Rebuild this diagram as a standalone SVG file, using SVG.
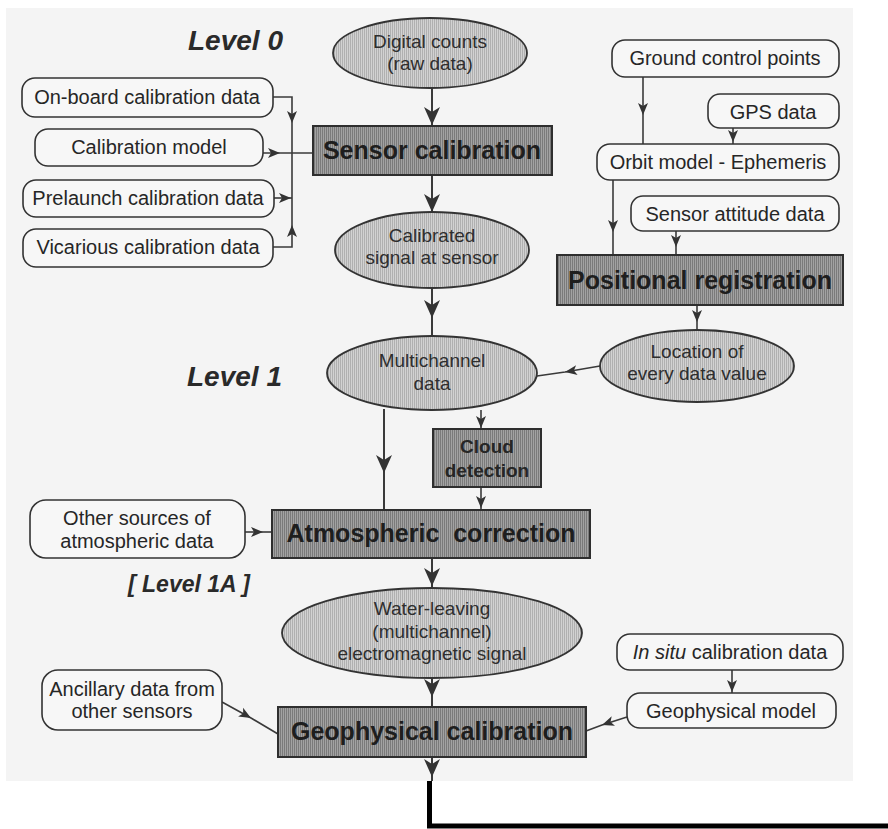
<svg xmlns="http://www.w3.org/2000/svg" width="888" height="829" viewBox="0 0 888 829">
  <style>
    .page { fill: #f4f4f4; }
    .lbl { font-family: "Liberation Sans", Arial, sans-serif; fill: #262626; text-anchor: middle; }
    .in { font-size: 20px; }
    .ell { font-size: 19px; fill: #2e2e2e; }
    .proc { font-size: 25px; font-weight: bold; fill: #1e1e1e; }
    .lvl { font-family: "Liberation Sans", Arial, sans-serif; font-weight: bold; font-style: italic; fill: #2a2a2a; }
    .src rect { fill: #f7f7f7; stroke: #333; stroke-width: 1.6; }
    .box rect { fill: url(#hatchDark); stroke: #2e2e2e; stroke-width: 2; }
    .oval ellipse { fill: url(#hatchLight); stroke: #333; stroke-width: 1.8; }
    .conn path { fill: none; stroke: #3a3a3a; stroke-width: 1.6; }
    .conn .big { stroke-width: 2; marker-mid: url(#bigHead); }
    .conn .small { marker-mid: url(#smallHead); }
    .conn .out { stroke: #000; stroke-width: 5; }
  </style>
  <defs>
    <pattern id="hatchDark" width="2" height="2" patternUnits="userSpaceOnUse">
      <rect width="2" height="2" fill="#a2a2a2"/>
      <rect width="1" height="2" fill="#7a7a7a"/>
    </pattern>
    <pattern id="hatchLight" width="2" height="2" patternUnits="userSpaceOnUse">
      <rect width="2" height="2" fill="#d2d2d2"/>
      <rect width="1" height="2" fill="#b0b0b0"/>
    </pattern>
    <marker id="bigHead" markerUnits="userSpaceOnUse" viewBox="0 -9 19 18" markerWidth="19" markerHeight="18" refX="18" refY="0" orient="auto" overflow="visible">
      <path d="M0,-8 L18,0 L0,8 L5,0 z" fill="#333"/>
    </marker>
    <marker id="smallHead" markerUnits="userSpaceOnUse" viewBox="0 -6 13 12" markerWidth="13" markerHeight="12" refX="12" refY="0" orient="auto" overflow="visible">
      <path d="M0,-5 L12,0 L0,5 L3,0 z" fill="#333"/>
    </marker>
  </defs>

  <!-- printed page area -->
  <rect class="page" x="6" y="8" width="847" height="773"/>

  <!-- level headings -->
  <text class="lvl" x="188" y="50" font-size="28">Level 0</text>
  <text class="lvl" x="187" y="386" font-size="28">Level 1</text>
  <text class="lvl" x="128" y="592" font-size="23">[ Level 1A ]</text>

  <!-- connectors -->
  <g id="connectors" class="conn">
    <!-- main processing column -->
    <path class="big" d="M432,88 L432,125 L432,126"/>
    <path class="big" d="M432,175 L432,212 L432,213"/>
    <path class="big" d="M432,288 L432,318 L432,337"/>
    <path class="big" d="M384,409 L384,473 L384,510"/>
    <path class="small" d="M481,410 L481,428 L481,429"/>
    <path class="small" d="M481,487 L481,508 L481,510"/>
    <path class="big" d="M432,558 L432,586 L432,588"/>
    <path class="big" d="M432,678 L432,697 L432,707"/>
    <path class="big" d="M432,757 L432,777 L432,781"/>

    <!-- calibration inputs: bus on the right of the source boxes -->
    <path d="M273,97 L292,97 L292,105"/>
    <path class="small" d="M292,105 L292,123 L292,153"/>
    <path d="M273,247 L292,247 L292,240"/>
    <path class="small" d="M292,240 L292,225 L292,153"/>
    <path class="small" d="M263,153 L280,153 L313,153"/>
    <path class="small" d="M274,198 L291,198 L292,198"/>

    <!-- positional inputs -->
    <path class="small" d="M643,77 L643,115 L643,144"/>
    <path class="small" d="M733,128 L733,142 L733,144"/>
    <path class="small" d="M613,180 L613,232 L613,255"/>
    <path class="small" d="M676,231 L676,247 L676,255"/>
    <path class="small" d="M697,305 L697,322 L697,330"/>
    <path class="small" d="M600,366 L565,372 L537,376"/>

    <!-- atmospheric and geophysical inputs -->
    <path class="small" d="M245,532 L263,532 L272,532"/>
    <path class="small" d="M222,702 L251,718 L278,734"/>
    <path class="small" d="M732,670 L732,692 L732,693"/>
    <path class="small" d="M627,717 L602,725 L586,731"/>

    <!-- output line -->
    <path class="out" d="M429.5,781 L429.5,826 L888,826"/>
  </g>

  <!-- data products -->
  <g id="digital-counts" class="oval">
    <ellipse cx="430" cy="53" rx="97" ry="35"/>
    <text class="lbl ell" x="430" y="48">Digital counts</text>
    <text class="lbl ell" x="430" y="70">(raw data)</text>
  </g>
  <g id="calibrated-signal" class="oval">
    <ellipse cx="432" cy="250" rx="97" ry="38"/>
    <text class="lbl ell" x="432" y="242">Calibrated</text>
    <text class="lbl ell" x="432" y="264">signal at sensor</text>
  </g>
  <g id="multichannel-data" class="oval">
    <ellipse cx="432" cy="373" rx="105" ry="37"/>
    <text class="lbl ell" x="432" y="367">Multichannel</text>
    <text class="lbl ell" x="432" y="390">data</text>
  </g>
  <g id="location" class="oval">
    <ellipse cx="697" cy="366" rx="97" ry="36"/>
    <text class="lbl ell" x="697" y="358">Location of</text>
    <text class="lbl ell" x="697" y="380">every data value</text>
  </g>
  <g id="water-leaving" class="oval">
    <ellipse cx="432" cy="633" rx="150" ry="45"/>
    <text class="lbl ell" x="432" y="615">Water-leaving</text>
    <text class="lbl ell" x="432" y="638">(multichannel)</text>
    <text class="lbl ell" x="432" y="660">electromagnetic signal</text>
  </g>

  <!-- processing steps -->
  <g id="sensor-calibration" class="box">
    <rect x="313" y="126" width="239" height="49"/>
    <text class="lbl proc" x="432" y="159">Sensor calibration</text>
  </g>
  <g id="positional-registration" class="box">
    <rect x="557" y="255" width="286" height="50"/>
    <text class="lbl proc" x="700" y="289">Positional registration</text>
  </g>
  <g id="cloud-detection" class="box">
    <rect x="433" y="429" width="108" height="58"/>
    <text class="lbl" x="487" y="453" font-size="19" font-weight="bold">Cloud</text>
    <text class="lbl" x="487" y="477" font-size="19" font-weight="bold">detection</text>
  </g>
  <g id="atmospheric-correction" class="box">
    <rect x="272" y="510" width="318" height="48"/>
    <text class="lbl proc" x="431" y="542" xml:space="preserve">Atmospheric  correction</text>
  </g>
  <g id="geophysical-calibration" class="box">
    <rect x="278" y="707" width="308" height="50"/>
    <text class="lbl proc" x="432" y="740">Geophysical calibration</text>
  </g>

  <!-- calibration sources -->
  <g id="onboard-calibration" class="src">
    <rect x="22" y="78" width="251" height="39" rx="13"/>
    <text class="lbl in" x="147" y="104">On-board calibration data</text>
  </g>
  <g id="calibration-model" class="src">
    <rect x="35" y="129" width="228" height="37" rx="13"/>
    <text class="lbl in" x="149" y="154">Calibration model</text>
  </g>
  <g id="prelaunch-calibration" class="src">
    <rect x="23" y="180" width="251" height="37" rx="13"/>
    <text class="lbl in" x="148" y="205">Prelaunch calibration data</text>
  </g>
  <g id="vicarious-calibration" class="src">
    <rect x="23" y="229" width="250" height="38" rx="13"/>
    <text class="lbl in" x="148" y="254">Vicarious calibration data</text>
  </g>

  <!-- positioning sources -->
  <g id="ground-control-points" class="src">
    <rect x="612" y="40" width="227" height="37" rx="13"/>
    <text class="lbl in" x="725" y="65">Ground control points</text>
  </g>
  <g id="gps-data" class="src">
    <rect x="708" y="94" width="131" height="34" rx="12"/>
    <text class="lbl in" x="773" y="119">GPS data</text>
  </g>
  <g id="orbit-model" class="src">
    <rect x="597" y="144" width="242" height="36" rx="13"/>
    <text class="lbl in" x="718" y="169">Orbit model - Ephemeris</text>
  </g>
  <g id="sensor-attitude" class="src">
    <rect x="631" y="196" width="208" height="35" rx="12"/>
    <text class="lbl in" x="735" y="221">Sensor attitude data</text>
  </g>

  <!-- other sources -->
  <g id="atmospheric-sources" class="src">
    <rect x="30" y="500" width="215" height="58" rx="16"/>
    <text class="lbl in" x="137" y="525">Other sources of</text>
    <text class="lbl in" x="137" y="548">atmospheric data</text>
  </g>
  <g id="ancillary-data" class="src">
    <rect x="42" y="670" width="180" height="60" rx="16"/>
    <text class="lbl in" x="132" y="696">Ancillary data from</text>
    <text class="lbl in" x="132" y="718">other sensors</text>
  </g>
  <g id="in-situ-calibration" class="src">
    <rect x="617" y="634" width="226" height="36" rx="13"/>
    <text class="lbl in" x="730" y="659"><tspan font-style="italic">In situ</tspan> calibration data</text>
  </g>
  <g id="geophysical-model" class="src">
    <rect x="627" y="693" width="209" height="35" rx="13"/>
    <text class="lbl in" x="731" y="718">Geophysical model</text>
  </g>
</svg>
